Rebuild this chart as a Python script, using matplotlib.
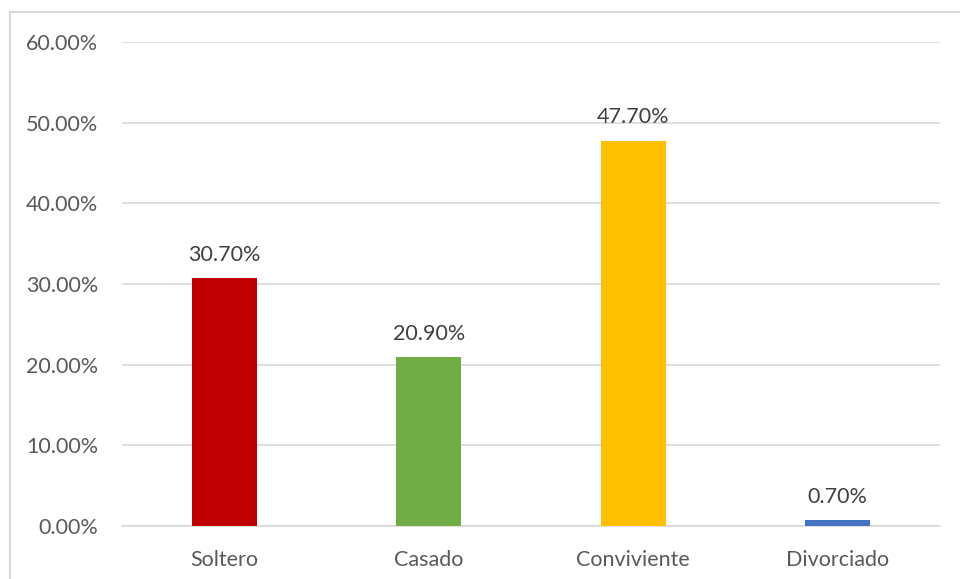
import matplotlib.pyplot as plt
from matplotlib.patches import Rectangle

categories = ["Soltero", "Casado", "Conviviente", "Divorciado"]
percentages = [30.70, 20.90, 47.70, 0.70]
bar_colors = ["#C00000", "#70AD47", "#FFC000", "#4472C4"]
y_ticks = [0, 10, 20, 30, 40, 50, 60]

plt.rcParams['font.family'] = ['Lato', 'DejaVu Sans']
text_color = "#595959"

fig = plt.figure(figsize=(9.6, 5.79), dpi=100)
ax = fig.add_axes([0.127, 0.0915, 0.852, 0.836])

# chart frame (cut off at the right and bottom edges)
fig.patches.append(Rectangle((10 / 960, -0.1), 1.2, 1 - 12 / 579 + 0.1,
                             transform=fig.transFigure, fill=False,
                             edgecolor="#D9D9D9", linewidth=1.5))

x = range(len(categories))
bars = ax.bar(x, percentages, width=0.317, color=bar_colors, zorder=3)
for xi, val in zip(x, percentages):
    ax.text(xi, val + 1.7, f"{val:.2f}%", ha="center", va="bottom",
            fontsize=15.5, color="#404040")

ax.set_xlim(-0.5, len(categories) - 0.5)
ax.set_ylim(0, 60)
ax.set_yticks(y_ticks)
ax.set_yticklabels([f"{t:.2f}%" for t in y_ticks])
ax.set_xticks(list(x))
ax.set_xticklabels(categories)
ax.tick_params(axis="both", length=0, labelsize=15.5, colors=text_color)
ax.tick_params(axis="y", pad=17)
ax.tick_params(axis="x", pad=17)
ax.grid(axis="y", color="#D9D9D9", linewidth=1.2, zorder=0)
for side in ["top", "right", "left"]:
    ax.spines[side].set_visible(False)
ax.spines["bottom"].set_color("#D9D9D9")
ax.spines["bottom"].set_linewidth(1.2)

fig.savefig("out.png", dpi=100)
